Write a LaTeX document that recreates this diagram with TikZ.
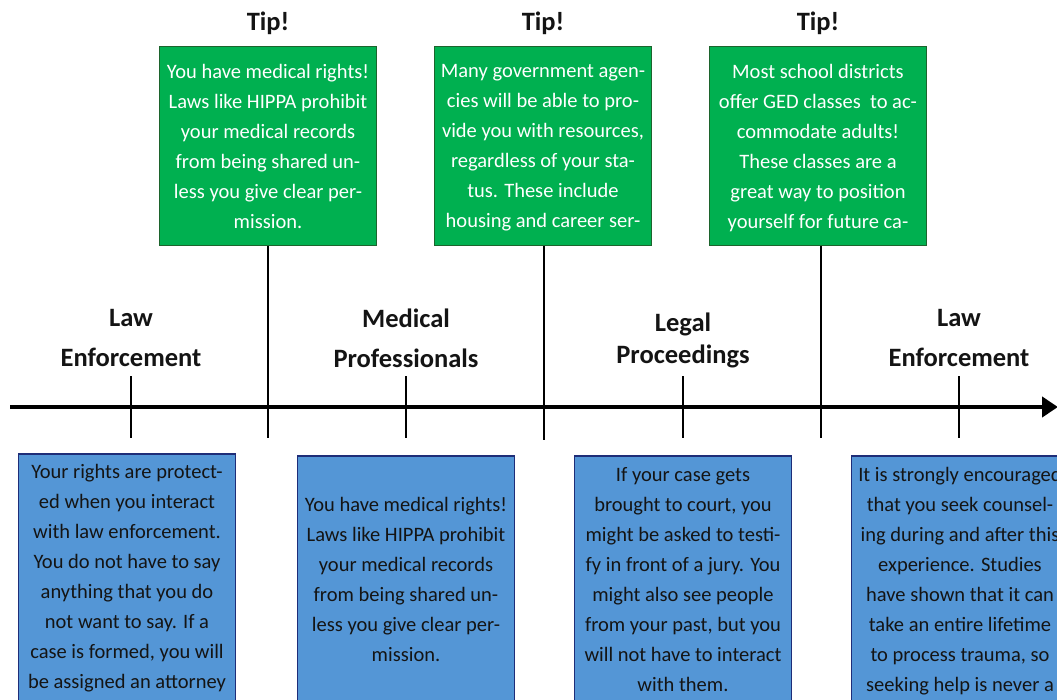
\documentclass[tikz,border=0pt]{standalone}
\usepackage{fontspec}
\setmainfont{Carlito}
\usetikzlibrary{positioning,arrows.meta}
\definecolor{tipgreen}{RGB}{0,176,80}
\definecolor{tipedge}{RGB}{28,100,45}
\definecolor{infoblue}{RGB}{84,150,214}
\definecolor{infoedge}{RGB}{30,45,120}
\definecolor{inktext}{RGB}{20,20,20}

\begin{document}
\begin{tikzpicture}[x=1pt,y=-1pt, semithick,
  tipbox/.style={draw=tipedge,fill=tipgreen,line width=1.5pt,minimum width=217pt,minimum height=199pt,anchor=north,inner sep=0pt},
  infobox/.style={draw=infoedge,fill=infoblue,line width=1.5pt,minimum width=217pt,minimum height=270pt,anchor=north,inner sep=0pt},
  tiptext/.style={align=center,anchor=north,inner sep=0pt,text=white,font=\fontsize{20.5}{30}\selectfont},
  infotext/.style={align=center,anchor=north,inner sep=0pt,text=inktext,font=\fontsize{20.5}{30}\selectfont},
  stage/.style={align=center,anchor=north,inner sep=0pt,text=inktext,font=\bfseries\fontsize{26.5}{40}\selectfont},
  tiplabel/.style={inner sep=0pt,text=inktext,font=\bfseries\fontsize{26.5}{30}\selectfont},
  tick/.style={line width=2.5pt}]
  \path[use as bounding box,clip] (0,0) rectangle (1057,700);

  % timeline
  \coordinate (start) at (10,407);
  \coordinate (finish) at (1058,407);
  \draw[line width=4.5pt,-{Triangle[length=16pt,width=20pt]}] (start) -- (finish);

  % green tips
  \node[tipbox] (gbox1) at (268,46) {};
  \node[tipbox] (gbox2) at (543,46) {};
  \node[tipbox] (gbox3) at (818,46) {};
  \node[tiplabel,above=11pt of gbox1] (tip1) {Tip!};
  \node[tiplabel,above=11pt of gbox2] (tip2) {Tip!};
  \node[tiplabel,above=11pt of gbox3] (tip3) {Tip!};
  \node[tiptext,below=18pt of gbox1.north] (gtext1) {You have medical rights!\\Laws like HIPPA prohibit\\your medical records\\from being shared un-\\less you give clear per-\\mission.};
  \node[tiptext,below=18pt of gbox2.north] (gtext2) {Many government agen-\\cies will be able to pro-\\vide you with resources,\\regardless of your sta-\\tus.  These include\\housing and career ser-};
  \node[tiptext,below=18pt of gbox3.north] (gtext3) {Most school districts\\offer GED classes \ to ac-\\commodate adults!\\These classes are a\\great way to position\\yourself for future ca-};

  \coordinate (tl1) at (268,438);
  \coordinate (tl2) at (544,440);
  \coordinate (tl3) at (821,438);
  \draw[tick] (tl1 |- gbox1.south) -- (tl1);
  \draw[tick] (tl2 |- gbox2.south) -- (tl2);
  \draw[tick] (tl3 |- gbox3.south) -- (tl3);

  % stages
  \coordinate (t1) at (131,407);
  \coordinate (t2) at (406,407);
  \coordinate (t3) at (683,407);
  \coordinate (t4) at (959,407);
  \draw[tick] (t1) ++(0,-31) -- ++(0,62);
  \draw[tick] (t2) ++(0,-31) -- ++(0,62);
  \draw[tick] (t3) ++(0,-31) -- ++(0,62);
  \draw[tick] (t4) ++(0,-31) -- ++(0,62);
  \node[stage] (law1) at (131,309) {Law\\Enforcement};
  \node[stage] (med) at (406,309) {Medical\\Professionals};
  \node[stage,font=\bfseries\fontsize{26.5}{32}\selectfont] (legal) at (683,313) {Legal\\Proceedings};
  \node[stage] (law2) at (959,309) {Law\\Enforcement};

  % blue boxes
  \node[infobox] (bbox1) at (127,453) {};
  \node[infobox] (bbox2) at (406,455) {};
  \node[infobox] (bbox3) at (683,455) {};
  \node[infobox] (bbox4) at (960,455) {};
  \node[infotext,below=11pt of bbox1.north] (btext1) {Your rights are protect-\\ed when you interact\\with law enforcement.\\You do not have to say\\anything that you do\\not want to say.  If a\\case is formed, you will\\be assigned an attorney};
  \node[infotext,below=42pt of bbox2.north] (btext2) {You have medical rights!\\Laws like HIPPA prohibit\\your medical records\\from being shared un-\\less you give clear per-\\mission.};
  \node[infotext,below=12pt of bbox3.north] (btext3) {If your case gets\\brought to court, you\\might be asked to testi-\\fy in front of a jury.  You\\might also see people\\from your past, but you\\will not have to interact\\with them.};
  \node[infotext,below=12pt of bbox4.north] (btext4) {It is strongly encouraged\\that you seek counsel-\\ing during and after this\\experience.  Studies\\have shown that it can\\take an entire lifetime\\to process trauma, so\\seeking help is never a};
\end{tikzpicture}
\end{document}
